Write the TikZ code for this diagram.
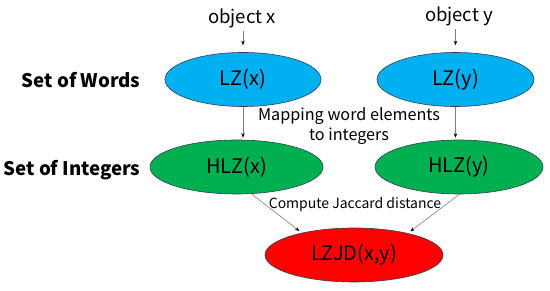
\documentclass[tikz,border=0pt]{standalone}
\usepackage{fontspec}
\setmainfont{Noto Sans CJK JP}
\usepackage{xcolor}
\usepackage{tikz}
\usetikzlibrary{positioning, arrows.meta, shapes.geometric}
\definecolor{wordblue}{HTML}{00B0F0}
\definecolor{intgreen}{HTML}{00B050}
\definecolor{distred}{HTML}{FF0000}
\definecolor{rimgray}{HTML}{2F3F55}
\definecolor{linegray}{HTML}{7F7F7F}

\begin{document}
\begin{tikzpicture}[x=1pt, y=1pt,
    setnode/.style={ellipse, draw=rimgray, line width=0.6pt, inner sep=0pt,
                    minimum height=54pt, font=\fontsize{20}{24}\selectfont},
    rowlabel/.style={anchor=east, font=\fontsize{18.7}{22}\selectfont\bfseries},
    flow/.style={draw=linegray, line width=0.6pt, -{Stealth[length=4.5pt, width=3.5pt, black]}}]
    \useasboundingbox (0,0) rectangle (550,291);

    % inputs
    \node[font=\fontsize{18.5}{22}\selectfont] (objx) at (242,273) {object x};
    \node[font=\fontsize{18.5}{22}\selectfont] (objy) at (459,275) {object y};

    % ellipses
    \node[setnode, fill=wordblue, minimum width=156pt] (lzx) at (243,211.5) {LZ(x)};
    \node[setnode, fill=wordblue, minimum width=157pt] (lzy) at (455.5,211.5) {LZ(y)};
    \node[setnode, fill=intgreen, minimum width=173pt] (hlzx) at (236.5,124) {HLZ(x)};
    \node[setnode, fill=intgreen, minimum width=168pt] (hlzy) at (459,124) {HLZ(y)};
    \node[setnode, fill=distred, minimum width=178pt] (lzjd) at (354,36) {LZJD(x,y)};

    % row labels
    \node[rowlabel] (words) at (144,211) {Set of Words};
    \node[rowlabel] (ints) at (144,121) {Set of Integers};

    % step labels
    \node[align=center, font=\fontsize{16.2}{19.5}\selectfont] (maplbl) at (349,165)
        {Mapping word elements\\to integers};
    \node[font=\fontsize{14}{17}\selectfont] (jaclbl) at (355,86) {Compute Jaccard distance};

    % arrows
    \draw[flow, shorten >=7pt] (objx.south -| lzx) -- (lzx);
    \draw[flow, shorten >=7pt] (objy.south -| lzy) -- (lzy);
    \draw[flow, shorten >=2pt] (lzx) -- (lzx |- hlzx.north);
    \draw[flow, shorten >=2pt] (lzy) -- (lzy |- hlzy.north);
    \draw[flow, shorten >=3pt] (hlzx.-61) -- (lzjd.157);
    \draw[flow, shorten >=3pt] (hlzy.-89) -- (lzjd.22);
\end{tikzpicture}
\end{document}
